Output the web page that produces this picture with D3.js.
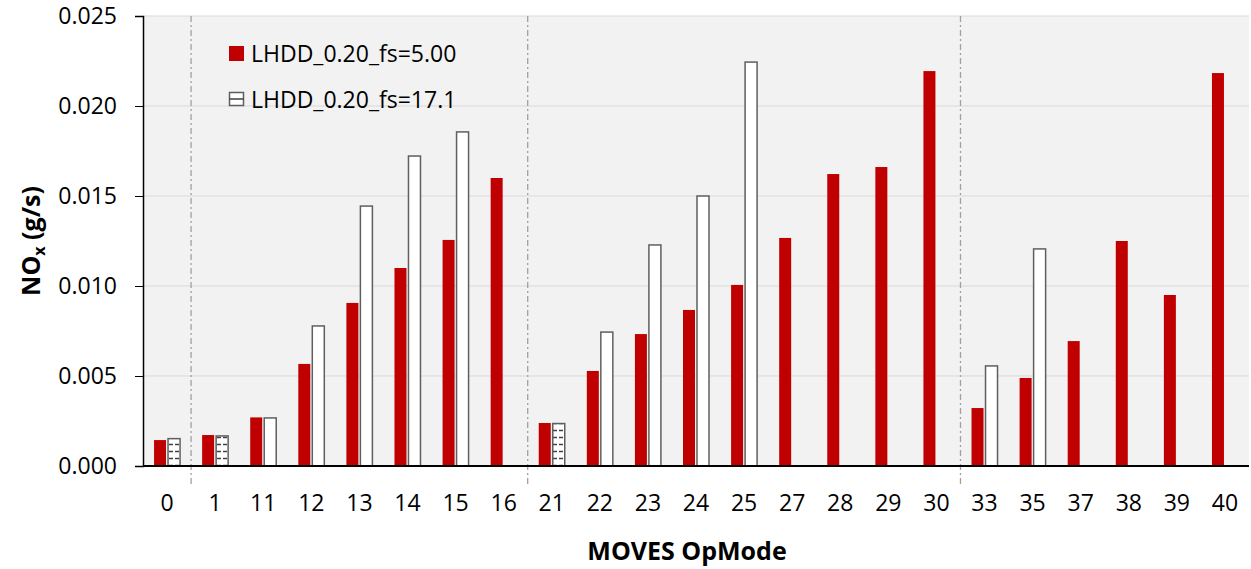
<!DOCTYPE html>
<html>
<head>
<meta charset="utf-8">
<script src="https://cdn.jsdelivr.net/npm/d3@7"></script>
<style>
  body { margin: 0; background: #fff; }
  text { font-family: "Open Sans", "Noto Sans", sans-serif; }
</style>
</head>
<body>
<script>
// OpModes along the x axis
var opModes = ["0","1","11","12","13","14","15","16","21","22","23","24","25","27","28","29","30","33","35","37","38","39","40"];
// NOx (g/s), fs=5.00
var fs500 = [0.00144,0.00172,0.0027,0.00567,0.00906,0.0110,0.01256,0.0160,0.00239,0.00528,0.00733,0.00867,0.01006,0.01267,0.01622,0.01661,0.02194,0.00322,0.00489,0.00694,0.0125,0.0095,0.02183];
// NOx (g/s), fs=17.1 (null = no bar)
var fs171 = [0.00152,0.00167,0.00267,0.00778,0.01444,0.01722,0.01856,null,0.00236,0.00744,0.01228,0.0150,0.02244,null,null,null,null,0.00556,0.01206,null,null,null,null];
var hatchedModes = ["0","1","21"];
var groupBreaks = ["1","21","33"];   // dash-dot line drawn before these
var yTicks = [0,0.005,0.010,0.015,0.020,0.025];
var seriesNames = ["LHDD_0.20_fs=5.00","LHDD_0.20_fs=17.1"];

var W = 1251, H = 569;
var m = {left:143, right:2, top:16, bottom:103};

var svg = d3.select("body").append("svg")
    .attr("width", W).attr("height", H);

var defs = svg.append("defs");
var pat = defs.append("pattern").attr("id","hdash")
    .attr("patternUnits","userSpaceOnUse")
    .attr("width",12).attr("height",7);
pat.append("rect").attr("width",12).attr("height",7).attr("fill","#fff");
pat.append("line").attr("x1",1).attr("x2",5).attr("y1",3.5).attr("y2",3.5)
    .attr("stroke","#404040").attr("stroke-width",1.5);
pat.append("line").attr("x1",7).attr("x2",11).attr("y1",3.5).attr("y2",3.5)
    .attr("stroke","#404040").attr("stroke-width",1.5);

var x = d3.scaleBand().domain(opModes).range([m.left, W - m.right]);
var y = d3.scaleLinear().domain([0, 0.025]).range([H - m.bottom, m.top]);

// plot area
svg.append("rect")
    .attr("x", m.left).attr("y", m.top)
    .attr("width", W - m.right - m.left).attr("height", y(0) - m.top)
    .attr("fill", "#f2f2f2");

// gridlines
svg.append("g").selectAll("line").data(yTicks.slice(1)).enter().append("line")
    .attr("x1", m.left).attr("x2", W - m.right)
    .attr("y1", function(d){ return y(d); }).attr("y2", function(d){ return y(d); })
    .attr("stroke", "#d9d9d9").attr("stroke-width", 1);

// group separators
svg.append("g").selectAll("line").data(groupBreaks).enter().append("line")
    .attr("x1", function(d){ return x(d); }).attr("x2", function(d){ return x(d); })
    .attr("y1", m.top).attr("y2", y(0) + 20)
    .attr("stroke", "#a0a0a0").attr("stroke-width", 1.3)
    .attr("stroke-dasharray", "6,3,2,3");

var bw = 12;
// red bars
svg.append("g").selectAll("rect").data(opModes).enter().append("rect")
    .attr("x", function(d){ return x(d) + x.bandwidth()/2 - bw - 1; })
    .attr("y", function(d, i){ return y(fs500[i]); })
    .attr("width", bw)
    .attr("height", function(d, i){ return y(0) - y(fs500[i]) + 1; })
    .attr("fill", "#c00000");

// white bars
var wData = opModes.map(function(d, i){ return {mode:d, v:fs171[i]}; })
    .filter(function(d){ return d.v != null; });
svg.append("g").selectAll("rect").data(wData).enter().append("rect")
    .attr("x", function(d){ return x(d.mode) + x.bandwidth()/2 + 1; })
    .attr("y", function(d){ return y(d.v); })
    .attr("width", bw)
    .attr("height", function(d){ return y(0) - y(d.v); })
    .attr("fill", function(d){ return hatchedModes.indexOf(d.mode) >= 0 ? "url(#hdash)" : "#fff"; })
    .attr("stroke", "#5f5f5f").attr("stroke-width", 1.5);

// x axis line
svg.append("line")
    .attr("x1", m.left).attr("x2", W - m.right)
    .attr("y1", y(0)).attr("y2", y(0))
    .attr("stroke", "#000").attr("stroke-width", 2);

// y axis
var yAxis = svg.append("g")
    .attr("transform", "translate(" + m.left + ",0)")
    .call(d3.axisLeft(y).tickValues(yTicks).tickFormat(d3.format(".3f")).tickSizeOuter(0).tickSize(8).tickPadding(18));
yAxis.select(".domain").attr("stroke", "#000").attr("stroke-width", 1.5);
yAxis.selectAll(".tick line").attr("stroke", "#000");
yAxis.selectAll("text").attr("font-size", 23).attr("fill", "#000")
    .attr("font-family", "'Open Sans', sans-serif");

// x labels
svg.append("g").selectAll("text").data(opModes).enter().append("text")
    .attr("x", function(d){ return x(d) + x.bandwidth()/2; })
    .attr("y", y(0) + 45)
    .attr("text-anchor", "middle").attr("font-size", 23).attr("fill", "#000")
    .text(function(d){ return d; });

// axis titles
svg.append("text")
    .attr("x", 687).attr("y", 560)
    .attr("text-anchor", "middle").attr("font-size", 25).attr("font-weight", "bold")
    .text("MOVES OpMode");

var yt = svg.append("text")
    .attr("transform", "translate(40," + (m.top + (y(0) - m.top)/2) + ") rotate(-90)")
    .attr("text-anchor", "middle").attr("font-size", 25).attr("font-weight", "bold");
yt.append("tspan").text("NO");
yt.append("tspan").attr("font-size", 16).attr("dy", 5).text("x");
yt.append("tspan").attr("dy", -5).text(" (g/s)");

// legend
var lg = svg.append("g");
lg.append("rect").attr("x", 229).attr("y", 46).attr("width", 15).attr("height", 15).attr("fill", "#c00000");
lg.append("rect").attr("x", 229.5).attr("y", 92.5).attr("width", 14).attr("height", 13)
    .attr("fill", "#fff").attr("stroke", "#5f5f5f").attr("stroke-width", 1.5);
lg.append("line").attr("x1", 229.5).attr("x2", 243.5).attr("y1", 99).attr("y2", 99)
    .attr("stroke", "#404040").attr("stroke-width", 1.5);
lg.selectAll("text").data(seriesNames).enter().append("text")
    .attr("x", 251).attr("y", function(d, i){ return 62 + i*46; })
    .attr("font-size", 23).attr("fill", "#000")
    .text(function(d){ return d; });
</script>
</body>
</html>
